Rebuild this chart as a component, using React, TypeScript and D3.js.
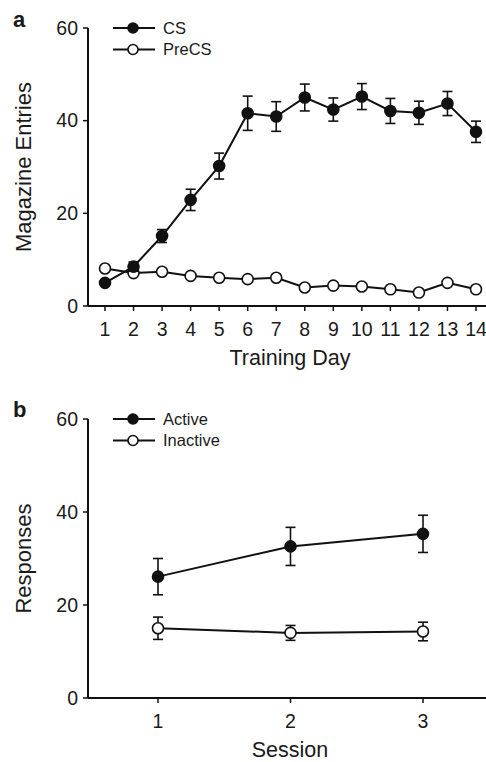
import React, { useEffect, useRef } from 'react';
import * as d3 from 'd3';

// Panel a: magazine entries across training days
const trainingDays = [1, 2, 3, 4, 5, 6, 7, 8, 9, 10, 11, 12, 13, 14];
const csMeans = [5.0, 8.5, 15.1, 22.9, 30.2, 41.6, 40.9, 45.0, 42.4, 45.2, 42.1, 41.7, 43.7, 37.6];
const csErrors = [0.5, 1.0, 1.4, 2.3, 2.8, 3.7, 3.2, 2.9, 2.5, 2.8, 2.7, 2.5, 2.6, 2.3];
const preCsMeans = [8.1, 7.1, 7.4, 6.5, 6.1, 5.8, 6.1, 4.0, 4.4, 4.2, 3.6, 2.9, 5.0, 3.6];

// Panel b: lever responses across sessions
const sessions = [1, 2, 3];
const activeMeans = [26.1, 32.6, 35.3];
const activeErrors = [3.9, 4.1, 4.0];
const inactiveMeans = [15.0, 14.0, 14.3];
const inactiveErrors = [2.4, 1.6, 2.0];

const yTicks = [0, 20, 40, 60];

interface Series {
  name: string;
  filled: boolean;
  means: number[];
  errors?: number[];
}

interface PanelSpec {
  letter: string;
  letterY: number;
  xs: number[];
  xDomain: [number, number];
  xRange: [number, number];
  yRange: [number, number];
  xTitle: string;
  yTitle: string;
  series: Series[];
}

const FONT = '"Liberation Sans", Arial, sans-serif';

export default function App() {
  const svgRef = useRef<SVGSVGElement>(null);

  useEffect(() => {
    if (!svgRef.current) return;
    document.body.style.margin = '0';
    const svg = d3.select(svgRef.current);
    svg.selectAll('*').remove();

    const panels: PanelSpec[] = [
      {
        letter: 'a',
        letterY: 27,
        xs: trainingDays,
        xDomain: [1, 14],
        xRange: [105, 476],
        yRange: [306, 28],
        xTitle: 'Training Day',
        yTitle: 'Magazine Entries',
        series: [
          { name: 'CS', filled: true, means: csMeans, errors: csErrors },
          { name: 'PreCS', filled: false, means: preCsMeans }
        ]
      },
      {
        letter: 'b',
        letterY: 417,
        xs: sessions,
        xDomain: [1, 3],
        xRange: [158, 423],
        yRange: [698, 419],
        xTitle: 'Session',
        yTitle: 'Responses',
        series: [
          { name: 'Active', filled: true, means: activeMeans, errors: activeErrors },
          { name: 'Inactive', filled: false, means: inactiveMeans, errors: inactiveErrors }
        ]
      }
    ];

    const axisLeftX = 88;

    panels.forEach(p => {
      const g = svg.append('g').attr('font-family', FONT).attr('fill', '#1a1a1a');
      const x = d3.scaleLinear().domain(p.xDomain).range(p.xRange);
      const y = d3.scaleLinear().domain([0, 60]).range(p.yRange);

      // panel letter
      g.append('text')
        .attr('x', 13)
        .attr('y', p.letterY)
        .attr('font-size', 22)
        .attr('font-weight', 'bold')
        .text(p.letter);

      // y axis
      g.append('line')
        .attr('x1', axisLeftX).attr('x2', axisLeftX)
        .attr('y1', y(60)).attr('y2', y(0))
        .attr('stroke', '#111').attr('stroke-width', 2);
      yTicks.forEach(t => {
        g.append('line')
          .attr('x1', axisLeftX - 5).attr('x2', axisLeftX)
          .attr('y1', y(t)).attr('y2', y(t))
          .attr('stroke', '#111').attr('stroke-width', 1.5);
        g.append('text')
          .attr('x', 78)
          .attr('y', y(t))
          .attr('dy', '0.35em')
          .attr('text-anchor', 'end')
          .attr('font-size', 19.5)
          .text(t);
      });

      // x axis
      g.append('line')
        .attr('x1', axisLeftX).attr('x2', 486)
        .attr('y1', y(0)).attr('y2', y(0))
        .attr('stroke', '#111').attr('stroke-width', 2);
      p.xs.forEach(v => {
        g.append('line')
          .attr('x1', x(v)).attr('x2', x(v))
          .attr('y1', y(0)).attr('y2', y(0) + 5)
          .attr('stroke', '#111').attr('stroke-width', 1.5);
        g.append('text')
          .attr('x', x(v))
          .attr('y', y(0) + 30)
          .attr('text-anchor', 'middle')
          .attr('font-size', 19.5)
          .text(v);
      });

      // axis titles
      g.append('text')
        .attr('x', 290)
        .attr('y', y(0) + 59)
        .attr('text-anchor', 'middle')
        .attr('font-size', 21.5)
        .text(p.xTitle);
      const yMid = (p.yRange[0] + p.yRange[1]) / 2;
      g.append('text')
        .attr('transform', `translate(31,${yMid}) rotate(-90)`)
        .attr('text-anchor', 'middle')
        .attr('font-size', 22)
        .text(p.yTitle);

      const line = d3.line<number>()
        .x((_, i) => x(p.xs[i]))
        .y(d => y(d));

      [...p.series].reverse().forEach(s => {
        g.append('path')
          .datum(s.means)
          .attr('d', line)
          .attr('fill', 'none')
          .attr('stroke', '#111')
          .attr('stroke-width', 2);

        if (s.errors) {
          s.means.forEach((m, i) => {
            const e = s.errors![i];
            const cx = x(p.xs[i]);
            g.append('line')
              .attr('x1', cx).attr('x2', cx)
              .attr('y1', y(m - e)).attr('y2', y(m + e))
              .attr('stroke', '#111').attr('stroke-width', 1.6);
            [m - e, m + e].forEach(v => {
              g.append('line')
                .attr('x1', cx - 5).attr('x2', cx + 5)
                .attr('y1', y(v)).attr('y2', y(v))
                .attr('stroke', '#111').attr('stroke-width', 1.6);
            });
          });
        }

        g.selectAll(null)
          .data(s.means)
          .enter()
          .append('circle')
          .attr('cx', (_, i) => x(p.xs[i]))
          .attr('cy', d => y(d))
          .attr('r', 5.5)
          .attr('fill', s.filled ? '#111' : '#fff')
          .attr('stroke', '#111')
          .attr('stroke-width', 1.6);
      });

      // legend
      p.series.forEach((s, i) => {
        const ly = y(60) + i * 21.5;
        g.append('line')
          .attr('x1', 113).attr('x2', 155)
          .attr('y1', ly).attr('y2', ly)
          .attr('stroke', '#111').attr('stroke-width', 2);
        g.append('circle')
          .attr('cx', 133).attr('cy', ly)
          .attr('r', 5)
          .attr('fill', s.filled ? '#111' : '#fff')
          .attr('stroke', '#111')
          .attr('stroke-width', 1.6);
        g.append('text')
          .attr('x', 163)
          .attr('y', ly)
          .attr('dy', '0.36em')
          .attr('font-size', 16.5)
          .text(s.name);
      });
    });
  }, []);

  return <svg ref={svgRef} width={486} height={762} style={{ display: 'block', background: '#fff' }} />;
}
